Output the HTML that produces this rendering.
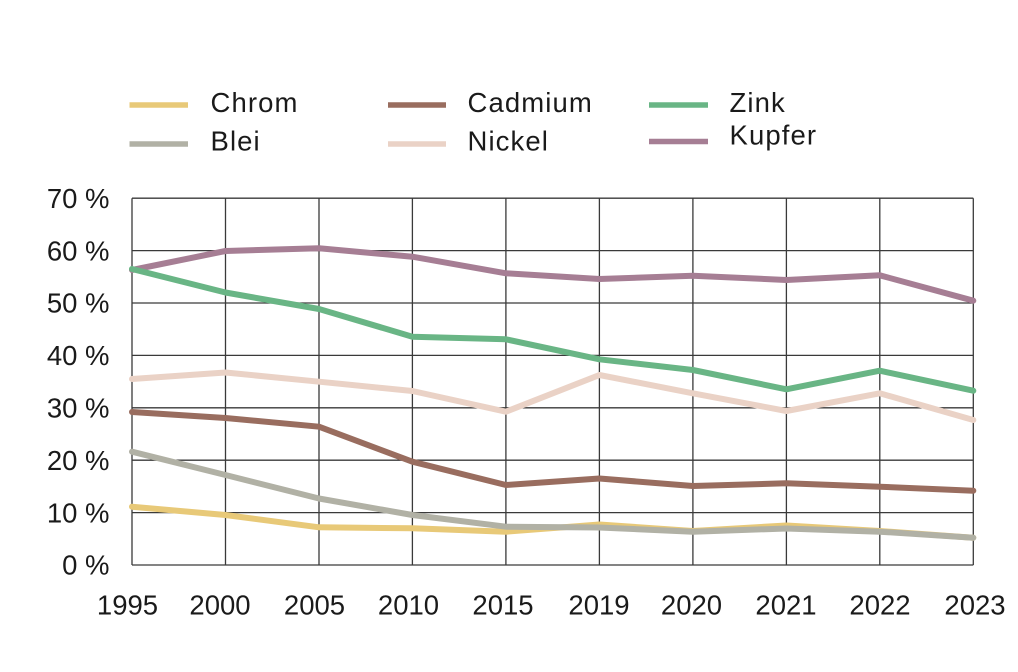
<!DOCTYPE html>
<html>
<head>
<meta charset="utf-8">
<style>
  html, body { margin: 0; padding: 0; background: #ffffff; }
  body { width: 1018px; height: 672px; overflow: hidden; }
  svg { display: block; }
  text { font-family: "Liberation Sans", Arial, sans-serif; fill: #1a1a1a; }
</style>
</head>
<body>
<svg width="1018" height="672" viewBox="0 0 1018 672" xmlns="http://www.w3.org/2000/svg">
  <!-- Legend -->
  <g stroke-width="5.5" stroke-linecap="butt">
    <line x1="129.5" y1="105" x2="188" y2="105" stroke="#e8c978"/>
    <line x1="129.5" y1="144" x2="188" y2="144" stroke="#b1b1a5"/>
    <line x1="388" y1="105" x2="446" y2="105" stroke="#996d5f"/>
    <line x1="388" y1="144" x2="446" y2="144" stroke="#ead2c6"/>
    <line x1="649" y1="105" x2="708" y2="105" stroke="#69b585"/>
    <line x1="649" y1="141.5" x2="708" y2="141.5" stroke="#a67e94"/>
  </g>
  <g font-size="27.5" letter-spacing="1.1">
    <text x="210.5" y="112">Chrom</text>
    <text x="210.5" y="150.3">Blei</text>
    <text x="467.5" y="112">Cadmium</text>
    <text x="467.5" y="150.3">Nickel</text>
    <text x="729.5" y="112">Zink</text>
    <text x="729.5" y="144.7">Kupfer</text>
  </g>

  <!-- Grid -->
  <g stroke="#3a3a3a" stroke-width="1.3">
    <line x1="132" y1="198.2" x2="973.3" y2="198.2"/>
    <line x1="132" y1="250.6" x2="973.3" y2="250.6"/>
    <line x1="132" y1="303" x2="973.3" y2="303"/>
    <line x1="132" y1="355.4" x2="973.3" y2="355.4"/>
    <line x1="132" y1="407.8" x2="973.3" y2="407.8"/>
    <line x1="132" y1="460.2" x2="973.3" y2="460.2"/>
    <line x1="132" y1="512.6" x2="973.3" y2="512.6"/>
    <line x1="132" y1="565" x2="973.3" y2="565"/>

    <line x1="132" y1="198.2" x2="132" y2="565"/>
    <line x1="225.5" y1="198.2" x2="225.5" y2="565"/>
    <line x1="319" y1="198.2" x2="319" y2="565"/>
    <line x1="412.4" y1="198.2" x2="412.4" y2="565"/>
    <line x1="505.9" y1="198.2" x2="505.9" y2="565"/>
    <line x1="599.4" y1="198.2" x2="599.4" y2="565"/>
    <line x1="692.9" y1="198.2" x2="692.9" y2="565"/>
    <line x1="786.4" y1="198.2" x2="786.4" y2="565"/>
    <line x1="879.8" y1="198.2" x2="879.8" y2="565"/>
    <line x1="973.3" y1="198.2" x2="973.3" y2="565"/>
  </g>

  <!-- Y labels -->
  <g font-size="27.5" text-anchor="end">
    <text x="109.5" y="207.9">70 %</text>
    <text x="109.5" y="260.3">60 %</text>
    <text x="109.5" y="312.7">50 %</text>
    <text x="109.5" y="365.1">40 %</text>
    <text x="109.5" y="417.5">30 %</text>
    <text x="109.5" y="469.9">20 %</text>
    <text x="109.5" y="522.3">10 %</text>
    <text x="109.5" y="574.7">0 %</text>
  </g>

  <!-- X labels -->
  <g font-size="27.5" text-anchor="middle">
    <text x="127.5" y="614.5">1995</text>
    <text x="220" y="614.5">2000</text>
    <text x="314.5" y="614.5">2005</text>
    <text x="408.5" y="614.5">2010</text>
    <text x="503" y="614.5">2015</text>
    <text x="599" y="614.5">2019</text>
    <text x="691.5" y="614.5">2020</text>
    <text x="786" y="614.5">2021</text>
    <text x="880" y="614.5">2022</text>
    <text x="975" y="614.5">2023</text>
  </g>

  <!-- Series -->
  <g fill="none" stroke-width="6" stroke-linejoin="round" stroke-linecap="round">
    <!-- Chrom -->
    <polyline stroke="#e8c978" points="132,506.7 225.5,515 319,527.3 412.4,528.3 505.9,531.7 599.4,524.5 692.9,531 786.4,525.5 879.8,531 973.3,537.7"/>
    <!-- Blei -->
    <polyline stroke="#b1b1a5" points="132,451.7 225.5,475 319,498.5 412.4,515 505.9,526.7 599.4,527.5 692.9,531.7 786.4,528.5 879.8,531.7 973.3,537.7"/>
    <!-- Cadmium -->
    <polyline stroke="#996d5f" points="132,412 225.5,418 319,426.7 412.4,461.7 505.9,485 599.4,478.5 692.9,486 786.4,483.3 879.8,486.7 973.3,490.7"/>
    <!-- Nickel -->
    <polyline stroke="#ead2c6" points="132,379 225.5,372.5 319,381.7 412.4,391 505.9,411.7 599.4,375 692.9,393.3 786.4,411 879.8,393.3 973.3,420"/>
    <!-- Kupfer -->
    <polyline stroke="#a67e94" points="132,270 225.5,251 319,248.3 412.4,256.7 505.9,273.3 599.4,279 692.9,275.7 786.4,280 879.8,275.3 973.3,300.7"/>
    <!-- Zink -->
    <polyline stroke="#69b585" points="132,269 225.5,292.5 319,309 412.4,336.7 505.9,339.3 599.4,359.3 692.9,370 786.4,389.3 879.8,370.7 973.3,390.7"/>
  </g>
</svg>
</body>
</html>
